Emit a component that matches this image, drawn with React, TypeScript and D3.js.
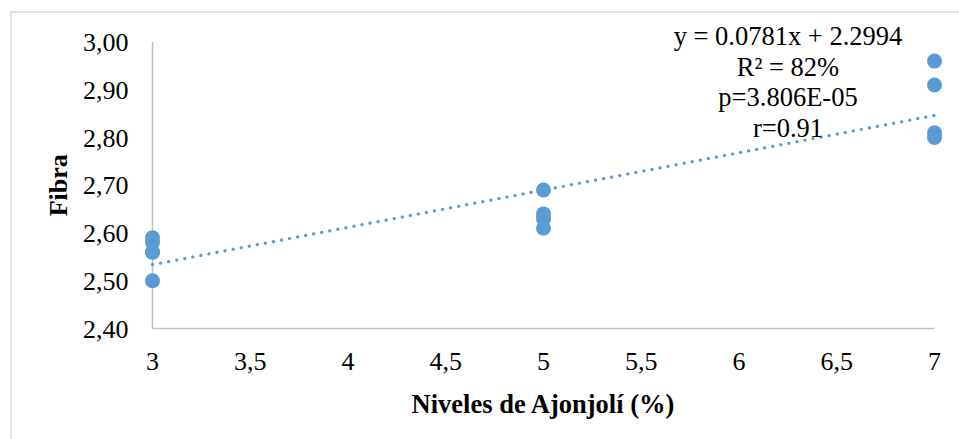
import React from "react";
import * as d3 from "d3";

const xNiveles = [3, 3, 3, 3, 3, 5, 5, 5, 5, 7, 7, 7, 7];
const yFibra = [2.59, 2.58, 2.56, 2.56, 2.5, 2.69, 2.64, 2.63, 2.61, 2.96, 2.91, 2.81, 2.8];
const xTicks = [3, 3.5, 4, 4.5, 5, 5.5, 6, 6.5, 7];
const yTicks = [2.4, 2.5, 2.6, 2.7, 2.8, 2.9, 3.0];
const trendSlope = 0.0781;
const trendIntercept = 2.2994;
const eqLines = ["y = 0.0781x + 2.2994", "R² = 82%", "p=3.806E-05", "r=0.91"];

const W = 959;
const H = 439;
const left = 152.5;
const right = 934.5;
const top = 42;
const bottom = 328.5;
const color = "#5b9bd5";
const font = "'Liberation Serif', 'Times New Roman', serif";

export default function App() {
  const x = d3.scaleLinear().domain([3, 7]).range([left, right]);
  const y = d3.scaleLinear().domain([2.4, 3.0]).range([bottom, top]);
  const fmtY = (v: number) => v.toFixed(2).replace(".", ",");
  const fmtX = (v: number) => String(v).replace(".", ",");
  const line = d3
    .line<number>()
    .x((d) => x(d))
    .y((d) => y(trendSlope * d + trendIntercept));
  return (
    <svg
      width={W}
      height={H}
      style={{ position: "absolute", left: 0, top: 0, background: "#fff" }}
      fontFamily={font}
    >
      <rect x={11} y={12} width={W} height={H} fill="#fff" stroke="#d9d9d9" strokeWidth={1.5} />
      <line x1={left} x2={left} y1={top} y2={bottom} stroke="#bfbfbf" strokeWidth={1.5} />
      <line x1={left} x2={right} y1={bottom} y2={bottom} stroke="#bfbfbf" strokeWidth={1.5} />
      {yTicks.map((t) => (
        <text key={t} x={128.5} y={y(t) + 9} textAnchor="end" fontSize={26} fill="#000">
          {fmtY(t)}
        </text>
      ))}
      {xTicks.map((t) => (
        <text key={t} x={x(t)} y={370} textAnchor="middle" fontSize={26} fill="#000">
          {fmtX(t)}
        </text>
      ))}
      <path
        d={line([3, 7]) || ""}
        fill="none"
        stroke={color}
        strokeWidth={3.2}
        strokeDasharray="0.1 8.1"
        strokeLinecap="round"
      />
      {xNiveles.map((xv, i) => (
        <circle key={i} cx={x(xv)} cy={y(yFibra[i])} r={7.5} fill={color} />
      ))}
      {eqLines.map((s, i) => (
        <text key={s} x={788} y={45 + i * 30.5} textAnchor="middle" fontSize={26.5} fill="#000">
          {s}
        </text>
      ))}
      <text x={543} y={413} textAnchor="middle" fontSize={26.5} fontWeight="bold" fill="#000">
        Niveles de Ajonjolí (%)
      </text>
      <text
        transform={`translate(67,${(top + bottom) / 2}) rotate(-90)`}
        textAnchor="middle"
        fontSize={26}
        fontWeight="bold"
        fill="#000"
      >
        Fibra
      </text>
    </svg>
  );
}
